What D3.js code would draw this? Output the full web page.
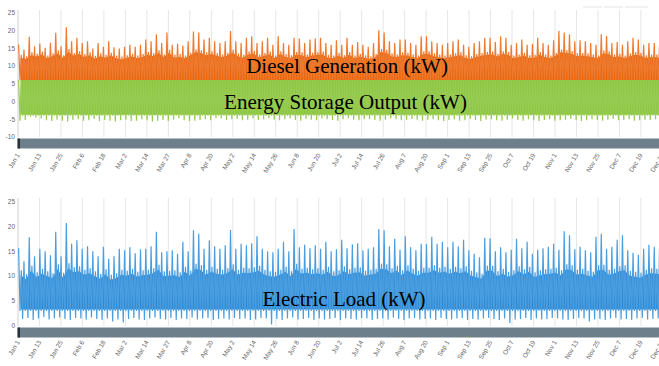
<!DOCTYPE html>
<html>
<head>
<meta charset="utf-8">
<script src="https://cdn.jsdelivr.net/npm/d3@7"></script>
<style>
  body { margin: 0; background: #fff; }
  svg { display: block; font-family: "Liberation Sans", Arial, sans-serif; }
  .ax text { fill: #666; font-size: 6.5px; }
  .big { font-family: "Liberation Serif", "Times New Roman", serif; font-size: 21px; fill: #000; text-anchor: middle; }
</style>
</head>
<body>
<svg id="chart" width="659" height="366"></svg>
<script>
// x tick labels (one every 292 hours of the year)
const tickLabels = ['Jan 1', 'Jan 13', 'Jan 25', 'Feb 6', 'Feb 18', 'Mar 2', 'Mar 14', 'Mar 27', 'Apr 8', 'Apr 20',
  'May 2', 'May 14', 'May 26', 'Jun 8', 'Jun 20', 'Jul 2', 'Jul 14', 'Jul 26', 'Aug 7', 'Aug 20',
  'Sep 1', 'Sep 13', 'Sep 25', 'Oct 7', 'Oct 19', 'Nov 1', 'Nov 13', 'Nov 25', 'Dec 7', 'Dec 19', 'Dec 31'];
const topTicks = [25, 20, 15, 10, 5, 0, -5, -10];
const bottomTicks = [25, 20, 15, 10, 5, 0];
const yearHours = 8760;
const hoursPerBin = 72;   // each value below summarises 3 days

// Diesel Generation (kW): peak and dense-band level per 3 days
const dieselPeak = [16.1, 14.7, 18.3, 15.6, 16.4, 15.2, 16.6, 19.4, 15.6, 21.0,
  17.0, 18.0, 16.5, 17.0, 15.0, 16.5, 15.5, 17.0, 15.3, 15.0,
  15.5, 16.0, 15.5, 16.0, 17.5, 17.0, 19.0, 16.5, 19.5, 16.0,
  16.3, 15.8, 17.0, 19.8, 19.5, 17.5, 18.0, 17.0, 16.5, 17.0,
  19.9, 17.0, 16.5, 18.0, 18.4, 16.5, 17.0, 18.0, 16.0, 18.4,
  16.5, 16.0, 18.0, 17.8, 16.5, 17.5, 17.8, 18.0, 16.5, 16.0,
  17.3, 16.0, 18.0, 16.0, 16.8, 16.0, 15.5, 16.5, 20.1, 19.5,
  17.0, 16.5, 17.5, 17.5, 16.5, 16.0, 18.4, 18.4, 17.0, 16.5,
  16.0, 16.5, 17.0, 17.5, 16.0, 15.5, 16.5, 17.0, 18.0, 18.0,
  16.8, 18.4, 18.0, 16.0, 16.5, 17.5, 16.0, 16.3, 18.0, 16.5,
  16.0, 17.3, 19.9, 19.5, 19.0, 17.0, 17.3, 17.0, 16.5, 16.0,
  19.0, 18.5, 16.5, 16.8, 16.0, 17.0, 18.0, 17.5, 16.0, 16.5,
  16.5, 16.0];
const dieselBody = [13.2, 12.8, 13.9, 13.5, 14.1, 13.0, 13.6, 14.4, 13.1, 14.8,
  13.7, 14.2, 13.4, 13.9, 12.9, 13.6, 13.2, 13.8, 13.0, 12.7,
  13.1, 13.5, 13.0, 13.4, 14.0, 13.6, 14.5, 13.3, 14.6, 13.2,
  13.4, 13.0, 13.8, 14.7, 14.5, 13.9, 14.2, 13.7, 13.3, 13.8,
  14.6, 13.6, 13.2, 14.1, 14.3, 13.3, 13.7, 14.1, 13.0, 14.2,
  13.4, 13.1, 14.0, 13.9, 13.3, 13.8, 14.0, 14.1, 13.2, 13.0,
  13.7, 13.1, 14.0, 13.0, 13.5, 13.1, 12.8, 13.4, 14.8, 14.6,
  13.6, 13.3, 13.9, 13.8, 13.3, 13.0, 14.2, 14.2, 13.6, 13.3,
  13.0, 13.3, 13.6, 13.9, 13.1, 12.8, 13.4, 13.7, 14.0, 14.1,
  13.5, 14.2, 14.0, 13.0, 13.3, 13.8, 13.1, 13.2, 14.0, 13.3,
  13.0, 13.7, 14.7, 14.5, 14.3, 13.6, 13.7, 13.6, 13.3, 13.0,
  14.4, 14.2, 13.3, 13.5, 13.0, 13.6, 14.0, 13.8, 13.1, 13.3,
  13.3, 13.0];
const dieselFloor = 6.0;

// Energy Storage Output (kW): upper limit, dense-band level and minimum per 3 days
const storageTop = 6.1;
const storageBody = -4.0;
const storageTrough = [-5.4, -5.2, -4.3, -4.5, -4.8, -5.3, -5.5, -5.1, -5.4, -5.6,
  -5.2, -5.0, -5.4, -5.3, -4.9, -5.5, -5.2, -5.4, -5.6, -5.3,
  -5.1, -5.5, -5.4, -5.0, -5.3, -5.6, -5.4, -5.2, -5.5, -5.1,
  -4.7, -5.3, -5.5, -5.4, -5.2, -5.0, -5.3, -4.6, -4.8, -5.2,
  -5.0, -4.9, -5.3, -5.1, -4.8, -5.2, -5.0, -4.7, -5.1, -5.3,
  -5.0, -4.8, -5.2, -5.4, -4.9, -5.1, -5.3, -4.8, -5.0, -5.2,
  -5.4, -5.0, -4.7, -5.1, -5.3, -5.0, -4.9, -5.2, -5.4, -5.1,
  -4.8, -5.0, -5.3, -5.2, -4.9, -5.1, -5.4, -5.2, -5.0, -5.3,
  -5.5, -5.2, -5.0, -5.4, -5.3, -4.9, -5.2, -5.5, -5.1, -5.0,
  -5.3, -5.4, -5.1, -4.8, -5.2, -5.4, -5.0, -5.3, -5.5, -5.2,
  -5.0, -5.4, -5.3, -5.1, -4.9, -5.2, -5.5, -5.3, -5.0, -5.2,
  -5.4, -5.1, -4.9, -5.3, -5.2, -5.0, -5.4, -5.3, -5.1, -5.2,
  -5.0, -5.3];

// Electric Load (kW): peak, dense-band top, dense-band bottom and minimum per 3 days
const loadPeak = [15.6, 13.0, 17.8, 14.0, 15.5, 15.0, 14.2, 18.9, 14.0, 20.7,
  16.5, 17.2, 15.5, 16.0, 15.0, 14.0, 15.9, 13.5, 14.0, 15.5,
  15.2, 15.8, 14.6, 15.4, 15.5, 16.0, 18.9, 14.8, 15.0, 15.2,
  14.5, 16.9, 15.0, 19.2, 18.5, 15.5, 17.2, 16.0, 15.5, 16.2,
  19.3, 15.5, 16.5, 16.2, 16.6, 18.0, 15.5, 15.0, 14.8, 15.5,
  16.9, 15.0, 19.5, 15.8, 16.3, 15.6, 16.2, 15.5, 16.9, 15.0,
  15.4, 17.3, 15.6, 16.4, 16.6, 15.2, 15.5, 15.8, 19.5, 19.2,
  16.0, 17.5, 15.3, 18.0, 15.8, 15.2, 16.5, 16.5, 17.9, 16.5,
  16.9, 15.8, 16.9, 16.0, 17.3, 15.2, 14.5, 13.8, 17.7, 17.6,
  15.0, 15.8, 14.8, 15.3, 17.5, 15.6, 16.9, 14.5, 15.3, 15.6,
  15.9, 16.5, 15.3, 19.0, 18.2, 15.4, 15.9, 15.2, 14.8, 17.9,
  18.5, 15.5, 15.9, 17.3, 18.2, 15.2, 14.7, 14.3, 15.5, 16.3,
  15.9, 15.6];
const loadBody = [11.2, 10.4, 12.1, 10.8, 11.5, 11.0, 10.6, 12.4, 10.7, 12.6,
  11.8, 12.0, 11.3, 11.6, 11.0, 10.5, 11.4, 10.3, 10.6, 11.3,
  11.1, 11.5, 10.9, 11.2, 11.3, 11.6, 12.3, 11.0, 11.1, 11.2,
  10.8, 11.9, 11.1, 12.5, 12.2, 11.3, 11.9, 11.5, 11.3, 11.6,
  12.4, 11.3, 11.7, 11.6, 11.8, 12.1, 11.3, 11.0, 10.9, 11.3,
  11.9, 11.0, 12.5, 11.5, 11.7, 11.4, 11.6, 11.3, 11.9, 11.0,
  11.2, 12.0, 11.4, 11.7, 11.8, 11.1, 11.3, 11.5, 12.5, 12.4,
  11.6, 12.1, 11.2, 12.2, 11.5, 11.1, 11.7, 11.7, 12.2, 11.7,
  11.9, 11.5, 11.9, 11.6, 12.0, 11.1, 10.8, 10.5, 12.1, 12.1,
  11.0, 11.5, 10.9, 11.2, 12.0, 11.4, 11.9, 10.8, 11.2, 11.4,
  11.5, 11.7, 11.2, 12.4, 12.2, 11.3, 11.5, 11.1, 10.9, 12.2,
  12.3, 11.3, 11.5, 12.0, 12.2, 11.1, 10.9, 10.7, 11.3, 11.6,
  11.5, 11.4];
const loadBodyLow = 3.0;
const loadTrough = [1.4, 1.6, 1.2, 1.5, 1.8, 1.3, 1.5, 1.7, 1.4, 1.2,
  1.6, 1.5, 1.3, 1.7, 1.4, 1.2, 1.5, 0.9, 1.3, 0.7,
  1.4, 1.6, 1.3, 1.2, 1.5, 1.7, 1.4, 1.3, 1.6, 1.2,
  1.5, 1.4, 1.7, 1.3, 1.5, 1.6, 1.2, 1.4, 1.5, 1.3,
  1.6, 1.4, 1.5, 1.2, 1.3, 1.6, 1.5, 0.3, 1.4, 1.2,
  1.5, 1.7, 1.3, 1.4, 1.6, 1.2, 1.5, 1.3, 1.4, 1.6,
  1.2, 1.5, 1.4, 1.3, 1.6, 1.5, 1.2, 1.4, 1.5, 1.3,
  1.7, 1.4, 1.2, 1.5, 1.6, 1.3, 1.4, 1.5, 1.2, 1.6,
  1.4, 1.3, 1.5, 1.6, 1.2, 1.4, 1.3, 1.5, 1.6, 1.4,
  1.2, 1.5, 0.6, 1.3, 1.4, 1.6, 1.2, 1.5, 1.3, 1.4,
  1.6, 1.5, 1.3, 1.2, 1.4, 1.6, 1.5, 0.9, 1.3, 1.4,
  1.2, 1.5, 1.6, 1.3, 1.4, 1.2, 1.5, 1.6, 1.3, 1.4,
  1.5, 1.3];

const svg = d3.select('#chart');
const x = d3.scaleLinear().domain([0, yearHours]).range([18, 662.4]);
const xt = d3.scalePoint().domain(tickLabels).range(x.range());

// four readings per bin, spread evenly over the bin: peak, low, band top, low
function trace(peak, lowA, body, lowB) {
  const pts = [];
  const step = hoursPerBin / 4;
  peak.forEach((v, i) => {
    const t = i * hoursPerBin;
    [v, lowA[i], body[i], lowB[i]].forEach((val, k) => pts.push({ t: t + step * (k + 0.5), v: val }));
  });
  return pts;
}
const same = (arr, v) => arr.map(() => v);

function panel(opts) {
  const y = d3.scaleLinear().domain(opts.domain).range(opts.range);
  const g = svg.append('g');
  const gTop = opts.gridTop, gBot = y(opts.domain[0]);

  g.append('g').selectAll('line').data(tickLabels).join('line')
    .attr('x1', d => xt(d)).attr('x2', d => xt(d))
    .attr('y1', gTop).attr('y2', gBot)
    .attr('stroke', '#e6e6e6').attr('stroke-width', 1);
  g.append('line').attr('x1', 18).attr('x2', 18).attr('y1', gTop).attr('y2', gBot)
    .attr('stroke', '#dcdcdc');

  const ax = g.append('g').attr('class', 'ax');
  ax.selectAll('text.yl').data(opts.ticks).join('text').attr('class', 'yl')
    .attr('x', 15).attr('y', d => y(d)).attr('dy', '0.35em').attr('text-anchor', 'end')
    .text(d => d);

  const clipId = 'clip' + opts.name;
  svg.append('clipPath').attr('id', clipId).append('rect')
    .attr('x', x(0)).attr('y', gTop - 5).attr('width', x(yearHours) - x(0)).attr('height', gBot - gTop + 5);
  const plot = g.append('g').attr('clip-path', `url(#${clipId})`);

  opts.series.forEach(s => {
    const core = d3.area().x(d => x(d.t)).y0(d => y(d.lo)).y1(d => y(d.hi));
    plot.append('path').datum(s.core).attr('d', core).attr('fill', s.color);
    const line = d3.line().x(d => x(d.t)).y(d => y(d.v));
    plot.append('path').datum(s.pts).attr('d', line).attr('fill', 'none')
      .attr('stroke', s.light).attr('stroke-width', 1.2).attr('stroke-linejoin', 'miter');
  });

  // navigator bar
  g.append('rect').attr('x', 18).attr('y', opts.barY).attr('width', x(yearHours) - 18).attr('height', 10)
    .attr('fill', '#6e7f8c').attr('stroke', '#b9c3cb').attr('stroke-width', 0.8);
  g.append('rect').attr('x', 17.5).attr('y', opts.barY).attr('width', 2.5).attr('height', 10)
    .attr('fill', '#2a3137');

  ax.selectAll('text.xl').data(tickLabels).join('text').attr('class', 'xl')
    .attr('text-anchor', 'end')
    .attr('transform', d => `translate(${xt(d) + 2},${opts.labelY}) rotate(-60)`)
    .text(d => d);
}

// solid core of each band, one point per bin
const coreOf = (lo, hi) => hi.map((v, i) => ({ t: i * hoursPerBin + hoursPerBin / 2, lo: lo, hi: v }));

panel({
  name: 'top', domain: [-10, 25], range: [137, 13], ticks: topTicks, gridTop: 10, barY: 138.5, labelY: 155,
  series: [
    { pts: trace(dieselPeak, same(dieselPeak, dieselFloor), dieselBody, same(dieselPeak, dieselFloor)),
      light: '#ed7a2e', color: '#e8650c', core: coreOf(dieselFloor, dieselBody.map(v => v - 0.8)) },
    { pts: trace(same(storageTrough, storageTop), storageTrough, same(storageTrough, storageTop), same(storageTrough, storageBody)),
      light: '#97cb52', color: '#8cc63f', core: coreOf(storageBody + 0.3, same(storageTrough, storageTop)) }
  ]
});

panel({
  name: 'bot', domain: [0, 25], range: [326, 201.5], ticks: bottomTicks, gridTop: 198, barY: 327.5, labelY: 342,
  series: [
    { pts: trace(loadPeak, same(loadPeak, loadBodyLow), loadBody, loadTrough),
      light: '#4a9ee0', color: '#2c88d3', core: coreOf(loadBodyLow + 0.3, loadBody.map(v => v - 1.0)) }
  ]
});

// faint range-selector strokes at the top right
svg.append('g').selectAll('line').data([[583, 602], [604, 623], [625, 648]]).join('line')
  .attr('x1', d => d[0]).attr('x2', d => d[1]).attr('y1', 7).attr('y2', 7)
  .attr('stroke', '#e2e2e2').attr('stroke-width', 1);

svg.append('text').attr('class', 'big').attr('x', 347).attr('y', 73).text('Diesel Generation (kW)');
svg.append('text').attr('class', 'big').attr('x', 345.5).attr('y', 109).text('Energy Storage Output (kW)');
svg.append('text').attr('class', 'big').attr('x', 344).attr('y', 306).text('Electric Load (kW)');
</script>
</body>
</html>
